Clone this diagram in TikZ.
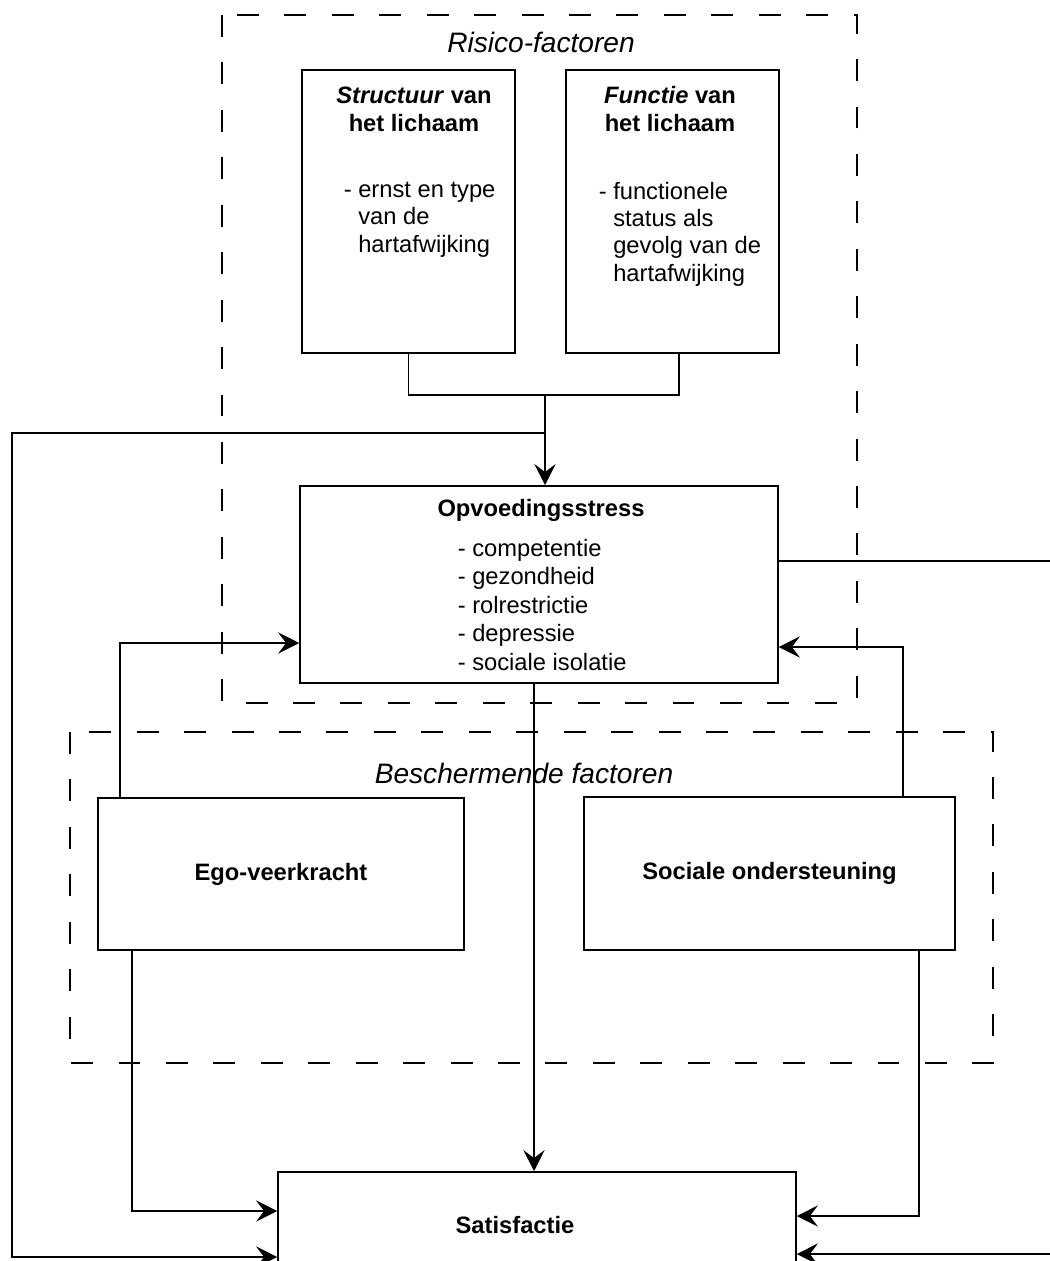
\documentclass[tikz,border=0pt]{standalone}
\usepackage{fontspec}
\setmainfont{Liberation Sans}
\usetikzlibrary{arrows.meta}
\begin{document}
\begin{tikzpicture}[x=0.02cm,y=-0.02cm,
      line width=0.9pt,
      every node/.style={font=\fontsize{13.5}{15.5}\selectfont},
      box/.style={draw,rectangle,inner sep=0pt},
      txt/.style={inner sep=0pt},
      group/.style={draw,dash pattern=on 12.5pt off 14.5pt},
      grouptitle/.style={inner sep=0pt,font=\fontsize{16}{19}\selectfont\itshape},
      arr/.style={-{Stealth[length=12pt,width=12pt,inset=4.5pt]}}]
      \useasboundingbox (0,0) rectangle (1050,1261);
      \clip (0,0) rectangle (1050,1261);
      \draw[group] (222,15) rectangle (857,703);
      \draw[group] (70,732) rectangle (993,1063);
      \path (541,42) node[grouptitle] (risico) {Risico-factoren};
      \path (524,773) node[grouptitle] (bescherm) {Beschermende factoren};
      \node[box,minimum width=4.26cm,minimum height=5.66cm] (structuur) at (408.5,211.5) {};
      \node[box,minimum width=4.26cm,minimum height=5.66cm] (functie) at (672.5,211.5) {};
      \node[txt,align=center,anchor=base] (structuurtitel) at (414,131) {\textbf{\textit{Structuur} van}\\\textbf{het lichaam}};
      \node[txt,align=left,anchor=base west] (structuurtekst) at (343,252) {- ernst en type\\\hphantom{- }van de\\\hphantom{- }hartafwijking};
      \node[txt,align=center,anchor=base] (functietitel) at (670,131) {\textbf{\textit{Functie} van}\\\textbf{het lichaam}};
      \node[txt,align=left,anchor=base west] (functietekst) at (598,281) {- functionele\\\hphantom{- }status als\\\hphantom{- }gevolg van de\\\hphantom{- }hartafwijking};
      \node[box,minimum width=9.56cm,minimum height=3.94cm] (opvoeding) at (539,584.5) {};
      \node[txt,anchor=base] (opvoedingtitel) at (541,516) {\textbf{Opvoedingsstress}};
      \node[txt,align=left,anchor=base west,font=\fontsize{13.5}{16.2}\selectfont] (opvoedingtekst) at (457,670) {- competentie\\- gezondheid\\- rolrestrictie\\- depressie\\- sociale isolatie};
      \node[box,minimum width=7.32cm,minimum height=3.04cm] (ego) at (281,874) {\textbf{Ego-veerkracht}};
      \node[box,minimum width=7.42cm,minimum height=3.06cm] (sociale) at (769.5,873.5) {\textbf{Sociale ondersteuning}};
      \node[box,minimum width=10.36cm,minimum height=2.56cm] (satisfactie) at (537,1236) {};
      \node[txt] (satisfactietekst) at (515,1225) {\textbf{Satisfactie}};
      \coordinate (samen) at (545,395);
      \coordinate (functieneer) at (679,395);
      \coordinate (terug) at (545,433);
      \coordinate (links) at (12,1257);
      \coordinate (rechtsboven) at (1062,561);
      \coordinate (rechts) at (1062,1254);
      \coordinate (egoop) at (120,643);
      \coordinate (egoneer) at (132,1211);
      \coordinate (socop) at (903,647);
      \coordinate (socneer) at (919,1216);
      \coordinate (midden) at (534,700);
      \draw (structuur.south) |- (functieneer) -- (functieneer |- functie.south);
      \draw[arr] (samen) -- (samen |- opvoeding.north);
      \draw[arr] (terug) -| (links) -- (links -| satisfactie.west);
      \draw[arr] (rechtsboven -| opvoeding.east) -- (rechtsboven) -- (rechts) -- (rechts -| satisfactie.east);
      \draw[arr] (egoop |- ego.north) -- (egoop) -- (egoop -| opvoeding.west);
      \draw[arr] (socop |- sociale.north) -- (socop) -- (socop -| opvoeding.east);
      \draw[arr] (egoneer |- ego.south) -- (egoneer) -- (egoneer -| satisfactie.west);
      \draw[arr] (socneer |- sociale.south) -- (socneer) -- (socneer -| satisfactie.east);
      \draw[arr] (midden |- opvoeding.south) -- (midden |- satisfactie.north);
     \end{tikzpicture}
\end{document}
